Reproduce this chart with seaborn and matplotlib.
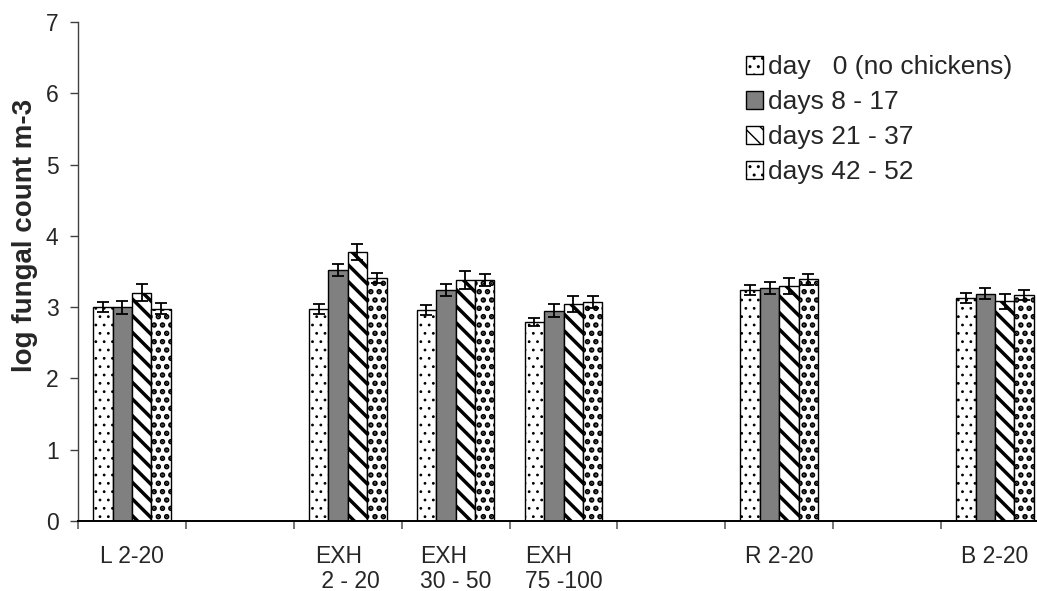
import numpy as np
import pandas as pd
import matplotlib
matplotlib.use("Agg")
import matplotlib.pyplot as plt
import seaborn as sns

# Sampling sites (with blank spacer slots) and sampling periods
sites = ["L 2-20", "gap1", "EXH 2-20", "EXH 30-50", "EXH 75-100", "gap2", "R 2-20", "gap3", "B 2-20"]
site_labels = ["L 2-20", "", "EXH\n 2 - 20", "EXH\n30 - 50", "EXH\n75 -100", "", "R 2-20", "", "B 2-20"]
measured_sites = ["L 2-20", "EXH 2-20", "EXH 30-50", "EXH 75-100", "R 2-20", "B 2-20"]
periods = ["day   0 (no chickens)", "days 8 - 17", "days 21 - 37", "days 42 - 52"]

# Mean log fungal counts per site for each period
day0 = [3.00, 2.97, 2.96, 2.79, 3.24, 3.13]
days8_17 = [3.00, 3.52, 3.24, 2.95, 3.27, 3.19]
days21_37 = [3.20, 3.77, 3.38, 3.04, 3.30, 3.08]
days42_52 = [2.98, 3.41, 3.38, 3.07, 3.39, 3.17]

# Standard errors
err_day0 = [0.066, 0.07, 0.065, 0.056, 0.07, 0.065]
err_days8_17 = [0.09, 0.08, 0.08, 0.09, 0.085, 0.08]
err_days21_37 = [0.12, 0.11, 0.13, 0.11, 0.11, 0.11]
err_days42_52 = [0.08, 0.075, 0.08, 0.08, 0.08, 0.075]

values = [day0, days8_17, days21_37, days42_52]
errors = [err_day0, err_days8_17, err_days21_37, err_days42_52]

df = pd.DataFrame({
    "site": np.repeat([measured_sites], len(periods), axis=0).ravel(),
    "period": np.repeat(periods, len(measured_sites)),
    "count": np.concatenate(values),
})

sns.set_style("ticks")
plt.rcParams["font.family"] = ["Liberation Sans", "DejaVu Sans"]
plt.rcParams["hatch.linewidth"] = 1.0

fig = plt.figure(figsize=(10.37, 5.91), dpi=100)
ax = fig.add_axes([78 / 1037, 70 / 591, 971 / 1037, 499 / 591])

palette = ["white", "#808080", "white", "white"]
sns.barplot(data=df, x="site", y="count", hue="period", order=sites,
            hue_order=periods, palette=palette, width=0.72, errorbar=None,
            edgecolor="black", linewidth=1.0, ax=ax, legend=False)

# Fill patterns: sparse fine dots, solid grey, bold diagonal stripes, bold dots
hatches = ["..", "", "\\\\", ".."]
hatch_lw = [0.8, 1.0, 2.5, 2.7]
for cont, h, hlw in zip(ax.containers, hatches, hatch_lw):
    for p in cont.patches:
        p.set_hatch(h)
        p.set_hatch_linewidth(hlw)

# Error bars drawn at each bar's centre
for cont, vals, errs in zip(ax.containers, values, errors):
    xs = sorted(p.get_x() + p.get_width() / 2 for p in cont.patches)
    ax.errorbar(xs, vals, yerr=errs, fmt="none", ecolor="black",
                elinewidth=1.3, capsize=4.5, capthick=1.3, zorder=5)

ax.set_xlim(-0.5, 8.5)
ax.set_ylim(0, 7)
ax.set_yticks(range(0, 8))
ax.tick_params(axis="y", labelsize=16.5, length=6, width=1, color="#404040", pad=8)

# Category boundaries as ticks, labels centred beneath each slot
ax.set_xticks(np.arange(-0.5, 9.0, 1.0))
ax.set_xticklabels([])
ax.set_xticks(np.arange(len(sites)), minor=True)
ax.set_xticklabels(site_labels, minor=True, fontsize=16.5, multialignment="left",
                   linespacing=1.12)
ax.tick_params(axis="x", which="major", length=6, width=1.2, color="#606060")
ax.tick_params(axis="x", which="minor", length=0, pad=17)
ax.set_xlabel("")

ax.set_ylabel("log fungal count m-3", fontsize=20, fontweight="bold")
ax.yaxis.set_label_coords(-0.041, 0.573)

sns.despine(ax=ax)
ax.spines["left"].set_color("#404040")
ax.spines["left"].set_linewidth(1.0)
ax.spines["bottom"].set_color("black")
ax.spines["bottom"].set_linewidth(1.4)

ax.legend(ax.containers, periods, loc="upper left",
          bbox_to_anchor=(746 / 1037, (591 - 55) / 591),
          bbox_transform=fig.transFigure, frameon=False, fontsize=19,
          borderpad=0, borderaxespad=0, handlelength=0.65, handleheight=0.65,
          handletextpad=0.2, labelspacing=0.42)

fig.savefig("out.png", dpi=100)
